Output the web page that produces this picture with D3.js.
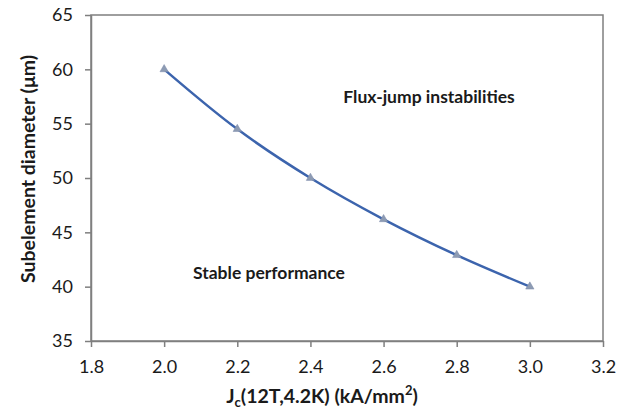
<!DOCTYPE html>
<html>
<head>
<meta charset="utf-8">
<script src="https://cdn.jsdelivr.net/npm/d3@7"></script>
<style>
  body { margin: 0; background: #fff; }
  text { font-family: Lato, "Open Sans", sans-serif; fill: #1a1a1a; }
</style>
</head>
<body>
<div id="chart"></div>
<script>
// values
var jc = [2.0, 2.2, 2.4, 2.6, 2.8, 3.0];
var diameter = [60, 54.5, 50, 46.2, 42.9, 40];
var xTicks = [1.8, 2.0, 2.2, 2.4, 2.6, 2.8, 3.0, 3.2];
var yTicks = [35, 40, 45, 50, 55, 60, 65];

var W = 622, H = 413;
var margin = { top: 15, left: 91, right: 19, bottom: 72 },
    width = W - margin.left - margin.right,
    height = H - margin.top - margin.bottom;

var svg = d3.select("#chart").append("svg")
    .attr("width", W)
    .attr("height", H);

var g = svg.append("g")
    .attr("transform", "translate(" + margin.left + "," + margin.top + ")");

var x = d3.scaleLinear().domain([1.8, 3.2]).range([0, width]);
var y = d3.scaleLinear().domain([35, 65]).range([height, 0]);

// box
g.append("rect")
    .attr("width", width)
    .attr("height", height)
    .attr("fill", "none")
    .attr("stroke", "#7f7f7f")
    .attr("stroke-width", 1.5);

var xAxis = d3.axisBottom(x).tickValues(xTicks).tickFormat(d3.format(".1f")).tickSize(6).tickSizeOuter(0);
var yAxis = d3.axisLeft(y).tickValues(yTicks).tickFormat(d3.format("d")).tickSize(6).tickSizeOuter(0);

var gx = g.append("g")
    .attr("transform", "translate(0," + height + ")")
    .call(xAxis);
var gy = g.append("g").call(yAxis);

[gx, gy].forEach(function (a) {
    a.select(".domain").attr("stroke", "#7f7f7f").attr("stroke-width", 1.5);
    a.selectAll(".tick line").attr("stroke", "#7f7f7f").attr("stroke-width", 1.5);
    a.selectAll(".tick text")
        .attr("font-size", 18)
        .attr("font-family", "Lato, 'Open Sans', sans-serif")
        .attr("fill", "#1a1a1a");
});
gx.selectAll(".tick text").attr("dy", "1.3em");
gy.selectAll(".tick text").attr("dx", "-0.5em");

var pts = jc.map(function (d, i) { return [d, diameter[i]]; });

var line = d3.line()
    .x(function (d) { return x(d[0]); })
    .y(function (d) { return y(d[1]); })
    .curve(d3.curveCatmullRom);

g.append("path")
    .datum(pts)
    .attr("fill", "none")
    .attr("stroke", "#3c64ad")
    .attr("stroke-width", 2.5)
    .attr("d", line);

g.selectAll(".marker")
    .data(pts)
    .enter()
    .append("path")
    .attr("class", "marker")
    .attr("d", d3.symbol().type(d3.symbolTriangle).size(30))
    .attr("transform", function (d) { return "translate(" + x(d[0]) + "," + y(d[1]) + ")"; })
    .attr("fill", "#8d9bb3")
    .attr("stroke", "#7c8bab")
    .attr("stroke-width", 0.5);

// annotations
g.append("text")
    .attr("x", 429 - margin.left)
    .attr("y", 103 - margin.top)
    .attr("text-anchor", "middle")
    .attr("font-size", 17.5)
    .attr("font-weight", "bold")
    .text("Flux-jump instabilities");

g.append("text")
    .attr("x", 269 - margin.left)
    .attr("y", 279 - margin.top)
    .attr("text-anchor", "middle")
    .attr("font-size", 17.5)
    .attr("font-weight", "bold")
    .text("Stable performance");

// axis titles
var xt = svg.append("text")
    .attr("x", 322)
    .attr("y", 403)
    .attr("text-anchor", "middle")
    .attr("font-size", 19.5)
    .attr("font-weight", "bold");
xt.append("tspan").text("J");
xt.append("tspan").attr("font-size", 13).attr("dy", 4).text("c");
xt.append("tspan").attr("dy", -4).text("(12T,4.2K) (kA/mm");
xt.append("tspan").attr("font-size", 13).attr("dy", -8).text("2");
xt.append("tspan").attr("dy", 8).text(")");

svg.append("text")
    .attr("transform", "translate(35," + (margin.top + height / 2 - 9) + ") rotate(-90)")
    .attr("text-anchor", "middle")
    .attr("font-size", 19.5)
    .attr("font-weight", "bold")
    .text("Subelement diameter (\u03bcm)");
</script>
</body>
</html>
